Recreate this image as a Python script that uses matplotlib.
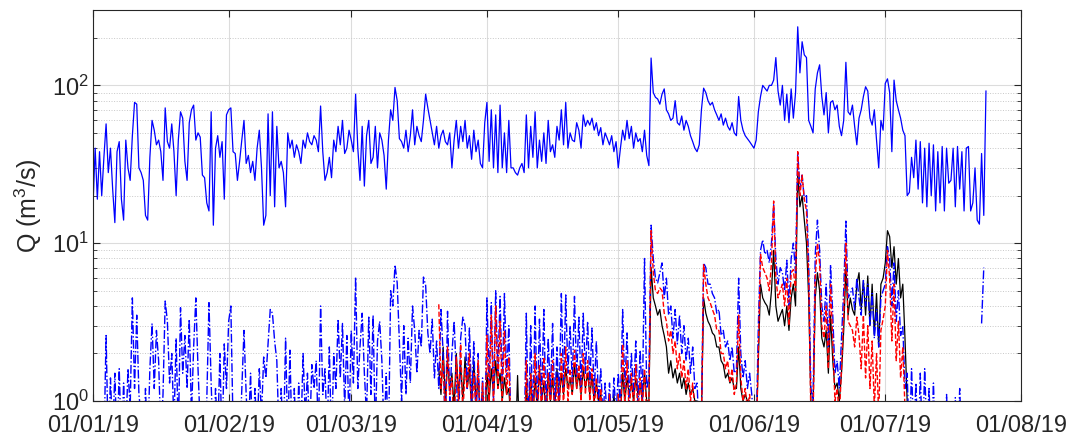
import numpy as np
import matplotlib.pyplot as plt
import matplotlib.dates as mdates
from matplotlib.ticker import LogLocator, NullFormatter
import datetime as dt

plt.rcParams['font.family'] = ['Liberation Sans', 'DejaVu Sans']
plt.rcParams['mathtext.default'] = 'regular'

start = dt.datetime(2019, 1, 1)

# przeplyw obserwowany (co pol dnia, od 01/01)
q_obs = [
    17, 40, 19, 38, 20, 35, 57, 28, 40, 22, 13.5, 38, 44, 19, 14, 45, 30, 25, 48, 78,
    76, 30, 28, 25, 15, 14, 35, 60, 52, 42, 45, 38, 25, 72, 44, 40, 57, 38, 20, 45,
    68, 62, 33, 25, 58, 70, 75, 45, 50, 47, 27, 26, 18, 16, 68, 13, 40, 48, 35, 44,
    19, 65, 70, 72, 38, 37, 25, 33, 45, 60, 32, 36, 28, 33, 25, 40, 52, 30, 13, 15,
    66, 20, 68, 17, 55, 30, 33, 28, 17, 50, 40, 45, 35, 42, 38, 32, 45, 40, 50, 44,
    42, 48, 45, 38, 74, 38, 25, 28, 35, 26, 45, 38, 55, 42, 60, 37, 40, 52, 45, 38,
    88, 40, 25, 55, 23, 48, 60, 32, 35, 55, 30, 50, 45, 36, 22, 45, 70, 60, 97, 80,
    46, 44, 40, 52, 38, 48, 70, 42, 55, 48, 44, 60, 88, 72, 60, 50, 42, 55, 40, 48,
    52, 44, 42, 50, 30, 45, 60, 40, 55, 44, 60, 40, 48, 34, 52, 38, 45, 32, 30, 58,
    78, 33, 70, 30, 65, 28, 75, 30, 50, 28, 60, 30, 30, 28, 27, 30, 32, 28, 65, 30,
    55, 35, 68, 30, 45, 33, 50, 32, 60, 38, 42, 35, 55, 45, 70, 42, 78, 40, 50, 45,
    44, 58, 52, 40, 65, 55, 60, 56, 62, 52, 58, 48, 54, 42, 50, 46, 42, 48, 38, 44,
    30, 40, 52, 45, 60, 46, 55, 40, 50, 44, 46, 38, 52, 36, 31, 149, 90, 84, 82, 76,
    88, 95, 70, 66, 60, 62, 80, 58, 56, 64, 52, 60, 55, 48, 44, 40, 38, 42, 70, 96,
    90, 80, 75, 78, 70, 65, 60, 66, 56, 62, 55, 52, 58, 50, 48, 85, 60, 52, 48, 46,
    44, 42, 40, 45, 68, 85, 100, 96, 92, 100, 100, 108, 150, 92, 75, 100, 60, 88, 58, 95,
    62, 90, 235, 120, 189, 156, 150, 60, 55, 50, 95, 120, 135, 85, 65, 90, 50, 78, 80, 70,
    75, 55, 48, 60, 140, 68, 65, 75, 55, 42, 62, 70, 85, 98, 92, 62, 56, 70, 45, 30,
    60, 52, 103, 110, 90, 38, 108, 80, 70, 62, 52, 48, 20, 21, 35, 26, 45, 22, 44, 18,
    40, 17, 43, 20, 42, 16, 38, 18, 41, 16, 40, 24, 25, 40, 17, 41, 22, 38, 16, 40,
    41, 16, 18, 30, 14, 13.2, 37, 15, 92,
]

# symulacja 1 (niebieska, kreska-kropka), od 01/01
q_sim1 = [
    1.2, 0.5, 0.6, 0.4, 0.7, 0.5, 2.6, 0.5, 1.4, 0.6, 1.5, 0.5, 1.6, 0.5, 1.3, 0.6, 1.6, 0.9, 4.5, 1.2,
    3.5, 1.1, 0.8, 0.5, 1.2, 0.5, 1.6, 3.1, 1.2, 2.8, 1.8, 0.6, 1.1, 4.3, 3.2, 1.3, 2.0, 0.7, 2.5, 0.6,
    3.9, 1.5, 2.6, 1.2, 3.3, 0.8, 2.2, 4.5, 1.6, 0.7, 0.8, 0.5, 1.0, 4.2, 1.3, 0.5, 1.2, 0.6, 2.0, 0.5,
    2.3, 1.2, 3.2, 4.0, 0.7, 0.5, 0.9, 0.5, 1.2, 2.8, 1.1, 0.6, 1.5, 0.5, 1.2, 0.6, 1.6, 0.8, 1.9, 1.4,
    2.3, 3.8, 3.6, 2.4, 1.8, 0.6, 1.2, 0.5, 2.5, 0.6, 2.1, 0.5, 1.2, 0.5, 1.3, 0.6, 2.0, 0.8, 1.5, 0.6,
    1.7, 1.2, 1.8, 0.6, 4.0, 1.1, 1.6, 0.6, 2.2, 0.5, 2.0, 1.2, 3.3, 1.4, 3.1, 0.9, 2.6, 0.7, 2.8, 1.3,
    6.1, 1.2, 2.2, 3.6, 1.5, 0.8, 3.4, 1.1, 3.5, 0.6, 2.4, 3.2, 1.8, 0.6, 1.5, 0.5, 5.0, 4.0, 7.3, 5.6,
    2.4, 1.0, 3.0, 1.1, 2.5, 1.3, 4.0, 2.8, 1.5, 2.8, 2.2, 6.1, 5.4, 2.7, 2.0, 3.3, 1.4, 2.4, 1.2, 3.8,
    2.0, 0.6, 3.7, 1.0, 2.0, 3.2, 1.5, 0.6, 2.5, 3.4, 3.0, 1.2, 2.9, 1.0, 2.4, 0.7, 2.0, 0.6, 1.4, 0.5,
    4.5, 1.3, 4.2, 1.0, 5.0, 1.5, 4.6, 1.2, 4.8, 1.4, 3.0, 0.6, 0.7, 0.5, 0.6, 0.5, 0.8, 0.5, 3.6, 0.6,
    3.0, 0.7, 4.0, 0.8, 3.3, 1.0, 3.8, 0.8, 2.5, 1.1, 3.1, 0.9, 2.2, 1.0, 4.8, 1.2, 4.7, 1.5, 3.0, 1.3,
    4.6, 1.4, 3.4, 1.2, 3.6, 1.5, 3.2, 1.3, 2.9, 1.1, 2.4, 1.0, 1.6, 0.8, 1.3, 0.7, 1.3, 0.7, 1.4, 0.8,
    1.5, 0.9, 3.8, 1.2, 2.7, 1.0, 2.0, 1.1, 2.4, 0.9, 2.1, 1.0, 8.0, 1.2, 1.4, 13.0, 8.0, 6.0, 5.6, 6.5,
    7.5, 4.5, 6.0, 3.5, 4.0, 2.5, 3.8, 2.3, 3.5, 2.0, 3.0, 1.8, 2.5, 1.5, 2.2, 1.2, 1.3, 0.6, 0.8, 7.5,
    7.0, 5.5, 5.5, 4.8, 4.5, 3.6, 3.8, 2.6, 2.8, 2.2, 2.4, 1.8, 2.2, 1.5, 1.6, 6.0, 2.0, 1.4, 1.8, 1.2,
    1.5, 1.1, 0.7, 0.6, 3.0, 9.0, 10.5, 8.5, 9.0, 7.5, 10.0, 17.5, 8.0, 5.5, 7.0, 6.5, 5.0, 7.8, 4.0, 8.0,
    10.0, 6.5, 38.0, 22.0, 27.0, 19.0, 20.0, 7.5, 1.2, 1.0, 8.5, 14.0, 9.0, 4.0, 3.2, 5.5, 2.2, 7.3, 3.5, 1.5,
    1.8, 1.2, 2.5, 5.0, 13.8, 4.5, 4.8, 5.2, 3.8, 6.0, 4.5, 3.5, 5.8, 4.0, 5.5, 3.0, 4.8, 2.5, 3.8, 2.2,
    4.5, 5.0, 5.5, 9.5, 8.0, 4.0, 7.5, 3.2, 5.0, 2.6, 3.0, 1.2, 1.5, 0.5, 1.6, 0.6, 1.3, 0.5, 1.5, 0.5,
    1.6, 0.6, 1.2, 0.5, 1.3, 0.5, 0.7, 0.5, 0.6, 0.5, 1.1, 0.5, 0.8, 0.5, 1.05, 0.5, 1.2, 0.5, 0.5, np.nan,
    np.nan, np.nan, np.nan, np.nan, np.nan, np.nan, 3.1, 7.0,
]

# symulacje 2 i 3 zaczynaja sie 20/03
sim_start = 79
q_sim2 = [
    4.1, 1.2, 1.8, 0.7, 2.2, 1.1, 1.4, 0.6, 1.9, 1.0, 2.3, 0.8, 1.6, 1.2, 2.0, 0.7, 1.5, 0.9, 1.8, 0.6,
    1.3, 0.5, 2.6, 1.0, 3.5, 0.9, 4.0, 1.2, 3.2, 1.0, 2.8, 1.1, 1.9, 0.6, 0.5, 0.4, 0.5, 0.4, 0.6, 0.4,
    1.8, 0.5, 1.5, 0.6, 2.0, 0.7, 1.7, 0.8, 1.9, 0.6, 1.5, 0.9, 1.8, 0.7, 1.4, 0.8, 2.0, 0.9, 2.2, 1.0,
    1.6, 1.1, 2.1, 1.2, 1.7, 1.0, 2.0, 1.1, 1.8, 1.0, 1.6, 0.9, 1.4, 0.8, 1.2, 0.7, 1.0, 0.6, 1.1, 0.6,
    1.0, 0.7, 1.1, 0.7, 2.3, 0.9, 1.8, 0.8, 1.5, 0.9, 1.7, 0.8, 1.4, 0.9, 1.6, 0.8, 1.0, 12.0, 6.5, 5.0,
    4.8, 5.2, 5.0, 3.6, 3.2, 2.4, 2.8, 2.0, 2.4, 1.6, 2.0, 1.4, 1.8, 1.2, 1.6, 1.0, 1.3, 0.9, 0.9, 0.5,
    0.7, 7.3, 5.5, 4.5, 4.2, 3.8, 3.5, 2.8, 2.8, 2.0, 2.0, 1.6, 1.8, 1.3, 1.6, 1.1, 1.3, 3.5, 1.4, 1.0,
    1.2, 0.9, 1.1, 0.8, 0.6, 0.5, 2.0, 8.5, 7.0, 6.5, 6.0, 5.0, 7.5, 18.5, 6.0, 4.5, 5.0, 5.5, 4.0, 6.0,
    3.0, 6.5, 6.8, 5.0, 38.0, 20.0, 27.0, 19.0, 16.0, 6.0, 0.8, 0.7, 6.0, 10.0, 7.5, 3.0, 2.5, 4.0, 1.6, 5.5,
    2.4, 1.0, 1.2, 0.8, 1.6, 3.5, 10.0, 3.2, 3.0, 2.8, 2.2, 3.4, 2.6, 1.6, 3.5, 1.4, 3.0, 1.2, 2.4, 0.9,
    2.0, 0.8, 2.8, 3.3, 4.0, 9.0, 6.0, 2.4, 5.5, 1.8, 3.2, 1.4, 2.2, 0.9, 0.8, 0.6,
]
q_sim3 = [
    1.6, 1.1, 2.2, 1.0, 1.8, 1.2, 1.5, 0.9, 2.0, 1.1, 1.7, 1.0, 1.9, 1.2, 1.6, 0.9, 1.8, 1.0, 1.4, 0.8,
    1.2, 0.7, 1.5, 1.0, 1.6, 1.1, 1.8, 1.2, 1.5, 1.0, 1.4, 1.1, 1.2, 0.7, 0.6, 0.5, 1.45, 0.5, 0.6, 0.5,
    1.3, 0.7, 1.5, 0.8, 1.4, 0.9, 1.6, 1.0, 1.3, 0.8, 1.5, 1.0, 1.4, 0.9, 1.6, 1.0, 1.5, 1.1, 1.6, 1.2,
    1.4, 1.1, 1.7, 1.2, 1.5, 1.1, 1.6, 1.2, 1.5, 1.1, 1.4, 1.0, 1.3, 1.0, 1.1, 0.8, 1.0, 0.8, 1.0, 0.7,
    1.1, 0.8, 1.0, 0.8, 1.5, 1.0, 1.4, 1.1, 1.3, 1.0, 1.4, 1.1, 1.3, 1.0, 1.5, 1.0, 1.0, 7.0, 4.5, 4.0,
    3.5, 3.8, 3.0, 2.6, 2.2, 1.5, 1.8, 1.4, 1.6, 1.3, 1.5, 1.2, 1.4, 1.1, 1.3, 1.1, 1.2, 1.0, 1.0, 0.7,
    0.8, 4.5, 3.6, 3.2, 3.0, 2.7, 2.6, 2.2, 2.2, 1.8, 1.7, 1.4, 1.5, 1.3, 1.4, 1.2, 1.2, 2.2, 1.2, 1.0,
    1.1, 1.0, 1.0, 0.9, 0.8, 0.6, 1.8, 5.5, 4.5, 4.2, 4.0, 3.5, 5.0, 9.0, 4.0, 3.2, 3.5, 3.8, 3.0, 4.0,
    2.8, 4.5, 5.5, 4.0, 28.0, 17.0, 20.0, 14.0, 10.0, 4.5, 1.0, 0.9, 4.5, 6.5, 5.0, 2.5, 2.2, 2.8, 1.5, 3.5,
    1.8, 1.2, 1.3, 1.0, 1.5, 2.8, 7.0, 3.5, 4.5, 3.8, 3.5, 5.5, 6.5, 3.8, 5.8, 3.5, 6.2, 3.0, 5.5, 2.6,
    4.8, 2.2, 5.5, 6.0, 7.5, 12.0, 11.0, 7.0, 9.5, 5.5, 8.0, 4.5, 5.5, 2.5, 1.0, 0.6,
]


def czas(n, d0=0):
    return [mdates.date2num(start + dt.timedelta(days=d0 + 0.5 * i)) for i in range(n)]


fig = plt.figure(figsize=(10.71, 4.38), dpi=100)
ax = fig.add_axes([0.0868, 0.0845, 0.8665, 0.8925])

ax.plot(czas(len(q_sim3), sim_start), q_sim3, color='k', lw=0.9)
ax.plot(czas(len(q_sim1)), q_sim1, color='b', ls='-.', lw=1.0)
ax.plot(czas(len(q_sim2), sim_start), q_sim2, color='r', ls='--', lw=1.0)
ax.plot(czas(len(q_obs)), q_obs, color='b', lw=0.9)

ax.set_yscale('log')
ax.set_ylim(1, 300)
ax.set_xlim(mdates.date2num(dt.datetime(2019, 1, 1)), mdates.date2num(dt.datetime(2019, 8, 1)))

ax.xaxis.set_major_locator(mdates.MonthLocator())
ax.xaxis.set_major_formatter(mdates.DateFormatter('%d/%m/%y'))
ax.yaxis.set_major_locator(LogLocator(base=10, numticks=10))
ax.yaxis.set_minor_locator(LogLocator(base=10, subs=np.arange(2, 10), numticks=10))
ax.yaxis.set_minor_formatter(NullFormatter())

ax.grid(True, which='major', color='#dcdcdc', lw=0.8)
ax.grid(True, which='minor', axis='y', color='#c8c8c8', ls=':', lw=0.7)
ax.set_axisbelow(True)

ax.tick_params(which='both', direction='in', top=True, right=True, colors='#262626', labelsize=17)
ax.tick_params(which='major', length=5)
ax.tick_params(which='minor', length=3, top=False)
ax.tick_params(axis='x', pad=10)
ax.tick_params(axis='y', pad=3)
for s in ax.spines.values():
    s.set_color('#262626')
    s.set_linewidth(0.8)

ax.set_ylabel('Q (m$^3$/s)', fontsize=18, color='#262626')
ax.yaxis.set_label_coords(-0.053, 0.5)

plt.savefig('out.png', dpi=100)
